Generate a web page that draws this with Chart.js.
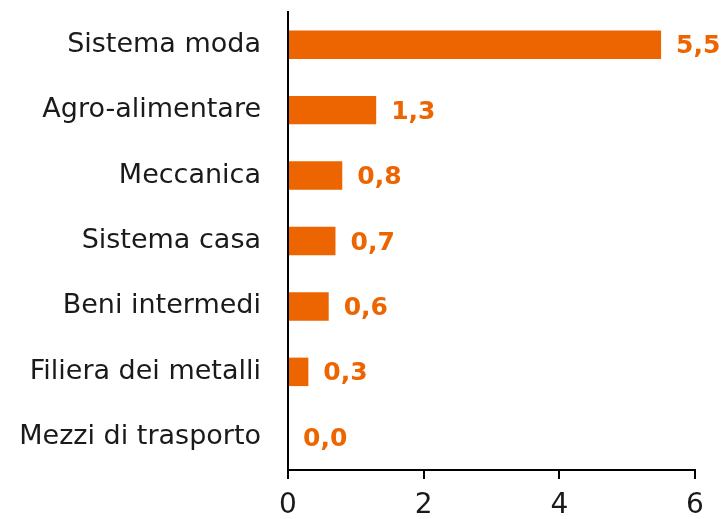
<!DOCTYPE html>
<html>
<head>
<meta charset="utf-8">
<script src="https://cdn.jsdelivr.net/npm/chart.js@4"></script>
<style>
  html, body { margin: 0; padding: 0; background: #fff; }
  #wrap { width: 724px; height: 519px; }
</style>
</head>
<body>
<div id="wrap"><canvas id="chart" width="724" height="519"></canvas></div>
<script>
var categories = ['Sistema moda', 'Agro-alimentare', 'Meccanica', 'Sistema casa', 'Beni intermedi', 'Filiera dei metalli', 'Mezzi di trasporto'];
var values = [5.5, 1.3, 0.8, 0.7, 0.6, 0.3, 0.0];
var xTicks = [0, 2, 4, 6];

var orange = '#EC6500';
var fontFamily = '"DejaVu Sans", sans-serif';

// value labels at the end of each bar, Italian decimal comma
var valueLabels = {
  id: 'valueLabels',
  afterDatasetsDraw: function(chart) {
    var ctx = chart.ctx;
    var meta = chart.getDatasetMeta(0);
    ctx.save();
    ctx.fillStyle = orange;
    ctx.font = 'bold 25px ' + fontFamily;
    ctx.textAlign = 'left';
    ctx.textBaseline = 'middle';
    meta.data.forEach(function(bar, i) {
      var txt = values[i].toFixed(1).replace('.', ',');
      ctx.fillText(txt, bar.x + 15, bar.y + 2);
    });
    ctx.restore();
  }
};

var ctx = document.getElementById('chart').getContext('2d');
var chart = new Chart(ctx, {
  type: 'bar',
  data: {
    labels: categories,
    datasets: [{
      data: values,
      backgroundColor: orange,
      borderWidth: 0,
      categoryPercentage: 1,
      barPercentage: 0.435
    }]
  },
  options: {
    indexAxis: 'y',
    responsive: false,
    animation: false,
    layout: { padding: { top: 12, right: 29, left: 0, bottom: 0 } },
    plugins: { legend: { display: false }, tooltip: { enabled: false } },
    scales: {
      x: {
        min: 0,
        max: 6,
        afterBuildTicks: function(scale) {
          scale.ticks = xTicks.map(function(v) { return { value: v }; });
        },
        afterFit: function(scale) {
          scale.height = 49;
          scale.paddingLeft = 0;
          scale.paddingRight = 0;
        },
        grid: { drawOnChartArea: false, tickLength: 9, color: '#000', lineWidth: 2 },
        border: { color: '#000', width: 2 },
        ticks: { color: '#1a1a1a', padding: 10, font: { family: fontFamily, size: 28 } }
      },
      y: {
        afterFit: function(scale) {
          scale.width = 288;
          scale.paddingTop = 0;
          scale.paddingBottom = 0;
        },
        grid: { display: false },
        border: { display: true, color: '#000', width: 2 },
        ticks: { color: '#1a1a1a', padding: 19, font: { family: fontFamily, size: 27 } }
      }
    }
  },
  plugins: [valueLabels]
});
</script>
</body>
</html>
